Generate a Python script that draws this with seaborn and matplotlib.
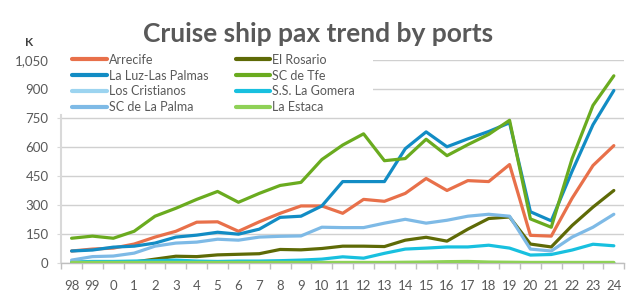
import numpy as np
import pandas as pd
import matplotlib
matplotlib.use("Agg")
import matplotlib.pyplot as plt
import seaborn as sns
from matplotlib.ticker import FuncFormatter, FixedLocator
from matplotlib.patches import Rectangle

years = ["98", "99", "0", "1", "2", "3", "4", "5", "6", "7", "8", "9", "10", "11",
         "12", "13", "14", "15", "16", "17", "18", "19", "20", "21", "22", "23", "24"]

arrecife = [62, 72, 77, 98, 134, 164, 211, 213, 164, 213, 257, 295, 295, 257,
            329, 319, 360, 437, 375, 426, 421, 509, 143, 139, 335, 504, 607]
el_rosario = [0, 0, 0, 5, 20, 35, 33, 42, 45, 48, 70, 68, 75, 87,
              87, 85, 118, 133, 113, 175, 230, 238, 98, 83, 194, 289, 375]
la_luz = [62, 67, 82, 87, 103, 134, 144, 159, 149, 175, 236, 242, 295, 421,
          421, 421, 591, 678, 601, 642, 680, 725, 265, 218, 475, 715, 892]
sc_tfe = [128, 139, 128, 164, 242, 283, 329, 370, 314, 360, 401, 417, 535, 610,
          668, 529, 540, 640, 555, 612, 665, 738, 228, 185, 540, 815, 968]
los_cristianos = [2, 2, 2, 2, 2, 2, 2, 2, 2, 2, 2, 2, 2, 2,
                  2, 2, 2, 2, 2, 2, 2, 2, 2, 2, 2, 2, 2]
la_gomera = [5, 8, 8, 10, 12, 15, 10, 8, 10, 10, 12, 15, 20, 32,
             25, 50, 72, 77, 83, 83, 92, 77, 41, 44, 67, 97, 89]
sc_la_palma = [15, 33, 36, 51, 87, 103, 108, 123, 118, 134, 138, 140, 185, 183,
               183, 206, 226, 206, 221, 242, 252, 242, 72, 62, 134, 185, 252]
la_estaca = [3, 3, 3, 3, 3, 3, 3, 3, 3, 3, 3, 3, 3, 3,
             3, 3, 4, 5, 7, 8, 5, 4, 3, 3, 3, 3, 3]

ports = ["Arrecife", "El Rosario", "La Luz-Las Palmas", "SC de Tfe",
         "Los Cristianos", "S.S. La Gomera", "SC de La Palma", "La Estaca"]
series = [arrecife, el_rosario, la_luz, sc_tfe, los_cristianos, la_gomera,
          sc_la_palma, la_estaca]
colors = ["#E8704A", "#5E6A06", "#128CC4", "#6AAB1F",
          "#9CD4F0", "#18C0DF", "#7EBAE6", "#8FD157"]

rows = []
for port, vals in zip(ports, series):
    for i, v in enumerate(vals):
        rows.append({"port": port, "x": i, "pax": v})
df = pd.DataFrame(rows)

sns.set_style("white")
plt.rcParams["font.family"] = ["Lato", "DejaVu Sans"]

fig = plt.figure(figsize=(6.37, 2.93), dpi=100)
ax = fig.add_axes([0.096, 0.1024, 0.884, 0.693])

sns.lineplot(data=df, x="x", y="pax", hue="port", hue_order=ports,
             palette=dict(zip(ports, colors)), linewidth=2.3, ax=ax,
             legend=True, zorder=3)

ax.set_xlim(-0.5, len(years) - 0.5)
ax.set_ylim(0, 1050)
ax.set_yticks(np.arange(0, 1051, 150))
ax.yaxis.set_major_formatter(FuncFormatter(lambda v, p: f"{int(v):,}"))
ax.set_xticks(range(len(years)))
ax.set_xticklabels(years)
ax.xaxis.set_minor_locator(FixedLocator(np.arange(-0.5, len(years), 1)))
ax.tick_params(axis="x", which="major", length=0, labelsize=9.5, colors="#595959", pad=12)
ax.tick_params(axis="x", which="minor", length=4, color="#BFBFBF", width=1, bottom=True)
ax.tick_params(axis="y", length=3, color="#D9D9D9", labelsize=9.5, labelcolor="#595959", pad=6, left=True)
ax.grid(axis="y", color="#D0D0D0", linewidth=1)
ax.set_axisbelow(True)
ax.set_xlabel("")
ax.set_ylabel("")
for s in ["top", "right"]:
    ax.spines[s].set_visible(False)
ax.spines["left"].set_color("#D9D9D9")
ax.spines["left"].set_linewidth(1.5)
ax.spines["left"].set_bounds(0, 765)
ax.spines["bottom"].set_color("#BFBFBF")
ax.spines["bottom"].set_linewidth(1)

# white box behind the legend hides the upper gridlines, like the original
ax.add_patch(Rectangle((-0.02, 0.74), 0.574, 0.32, transform=ax.transAxes,
                       facecolor="white", edgecolor="none", zorder=1, clip_on=False))

handles, labels = ax.get_legend_handles_labels()
order = [0, 2, 4, 6, 1, 3, 5, 7]
leg = ax.legend([handles[i] for i in order], [labels[i] for i in order],
                ncol=2, loc="upper left", bbox_to_anchor=(0.02, 1.03),
                frameon=False, fontsize=9, handlelength=2.75, handletextpad=0.15,
                columnspacing=2.2, labelspacing=0.3, borderpad=0,
                borderaxespad=0)
for t in leg.get_texts():
    t.set_color("#595959")
for h in leg.legend_handles:
    h.set_linewidth(3)
leg.set_zorder(10)

fig.text(0.5, 0.885, "Cruise ship pax trend by ports", ha="center", va="center",
         fontsize=19, fontweight="bold", color="#595959")
fig.text(0.046, 0.855, "K", ha="center", va="center", fontsize=8.5,
         fontweight="bold", color="#404040")

fig.savefig("out.png", dpi=100)
